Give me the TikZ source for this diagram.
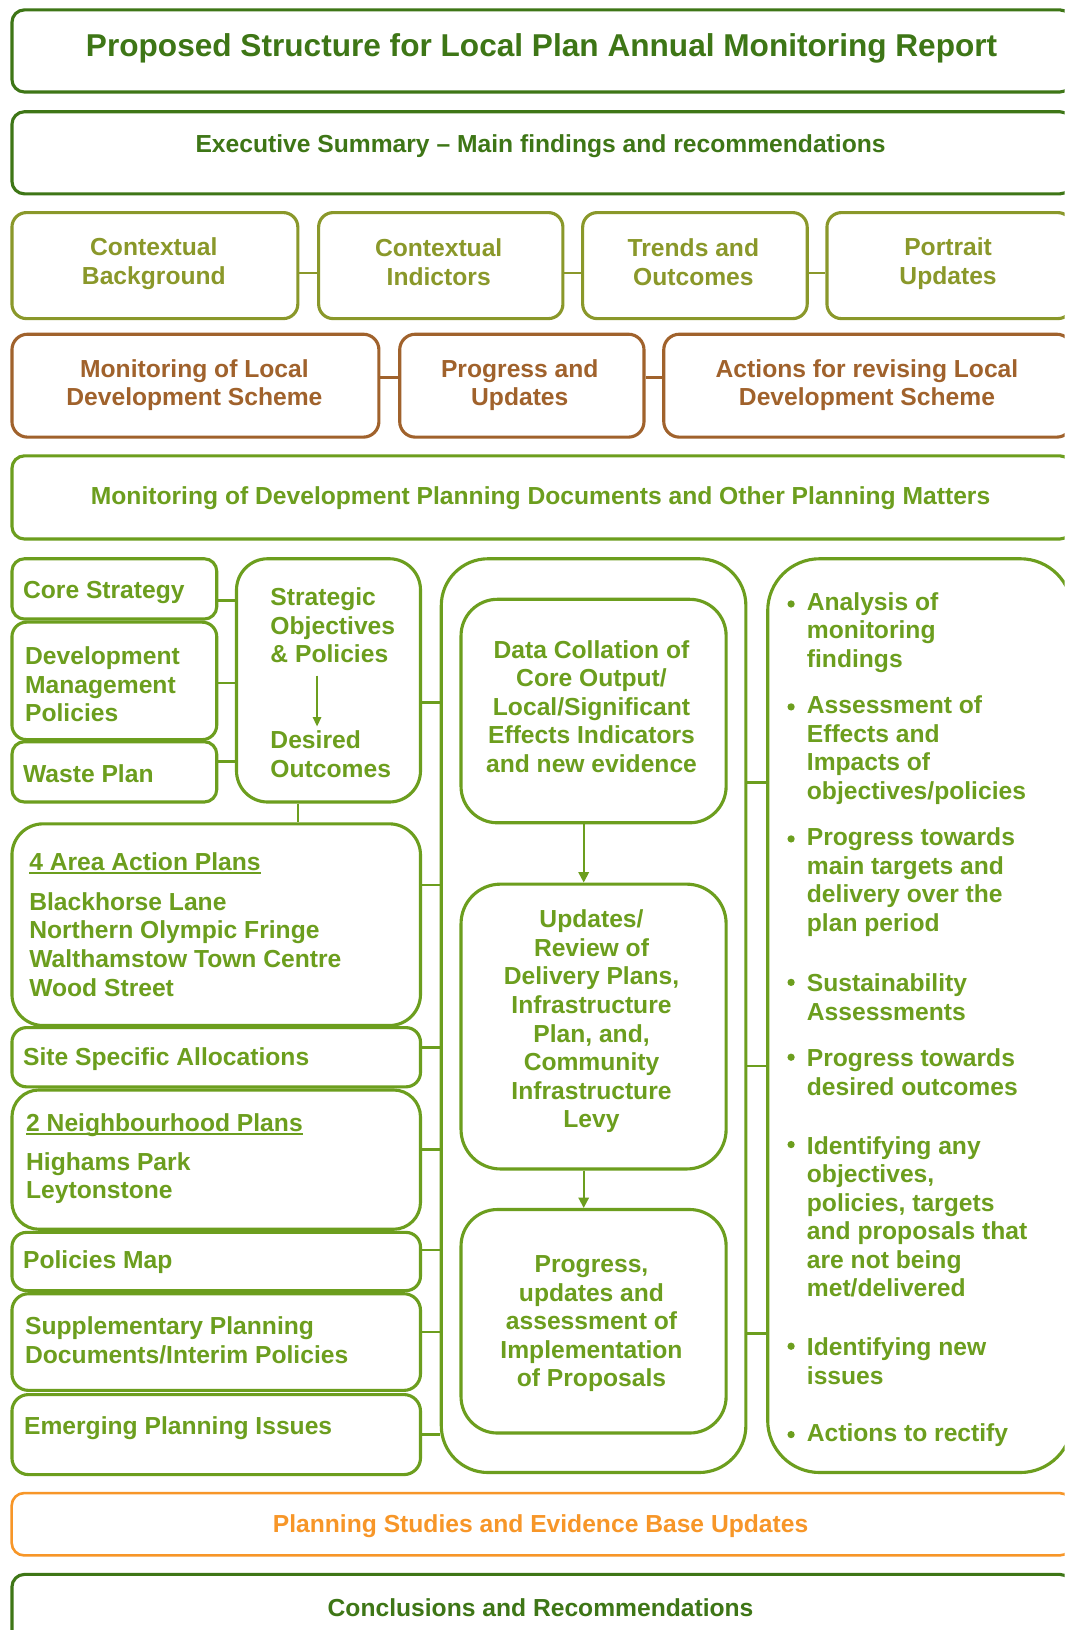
\documentclass[tikz,border=0pt]{standalone}
\usepackage{fontspec}
\setmainfont{Liberation Sans}
\usetikzlibrary{arrows.meta}
\definecolor{dgreen}{RGB}{62,118,22}
\definecolor{olivec}{RGB}{138,152,42}
\definecolor{brownc}{RGB}{160,98,44}
\definecolor{bgreen}{RGB}{108,158,30}
\definecolor{orangec}{RGB}{247,150,40}
\newcommand\myul[1]{\setbox0\hbox{#1}\rlap{\rule[-3.5pt]{\wd0}{1.8pt}}\box0}
\begin{document}
\begin{tikzpicture}[x=1pt,y=-1pt,
  box/.style={draw=#1, line width=3pt, inner sep=0pt, anchor=north west, fill=white},
  txt/.style={inner sep=0pt, yshift=-2.5pt, font=\bfseries\fontsize{23.7}{27.5}\selectfont, align=center},
  ltxt/.style={txt, align=left, anchor=west},
  conn/.style={line width=2.5pt},
  arr/.style={line width=1.8pt, -{Triangle[width=10pt,length=10pt]}},
  sarr/.style={line width=1.5pt, -{Triangle[width=8pt,length=9pt]}}]
\useasboundingbox (0,0) rectangle (1024,1568);
\fill[white] (0,0) rectangle (1024,1568);
\clip (0,0) rectangle (1024,1568);

% top boxes
\node[box=dgreen, rounded corners=12pt, minimum width=1020pt, minimum height=79pt] (title) at (10,8) {};
\node[txt, text=dgreen, font=\bfseries\fontsize{30.4}{34}\selectfont] (titlet) at (521,44) {Proposed Structure for Local Plan Annual Monitoring Report};
\node[box=dgreen, rounded corners=12pt, minimum width=1020pt, minimum height=79pt] (exec) at (10,106) {};
\node[txt, text=dgreen] (exect) at (520,138) {Executive Summary – Main findings and recommendations};

% row 3
\node[box=olivec, rounded corners=14pt, minimum width=275pt, minimum height=102pt] (cb) at (10,203) {};
\node[box=olivec, rounded corners=14pt, minimum width=235pt, minimum height=102pt] (ci) at (305,203) {};
\node[box=olivec, rounded corners=14pt, minimum width=216pt, minimum height=102pt] (tro) at (559,203) {};
\node[box=olivec, rounded corners=14pt, minimum width=236pt, minimum height=102pt] (pu) at (794,203) {};
\node[txt, text=olivec] (cbt) at (148,251) {Contextual\\Background};
\node[txt, text=olivec] (cit) at (422,250) {Contextual\\Indictors};
\node[txt, text=olivec] (trot) at (667,250) {Trends and\\Outcomes};
\node[txt, text=olivec] (put) at (912,251) {Portrait\\Updates};
\draw[conn, olivec] ([yshift=-7pt]cb.east) -- ([yshift=-7pt]cb.east -| ci.west);
\draw[conn, olivec] ([yshift=-7pt]ci.east) -- ([yshift=-7pt]ci.east -| tro.west);
\draw[conn, olivec] ([yshift=-7pt]tro.east) -- ([yshift=-7pt]tro.east -| pu.west);

% row 4
\node[box=brownc, rounded corners=15pt, minimum width=353pt, minimum height=99pt] (m1) at (10,320) {};
\node[box=brownc, rounded corners=15pt, minimum width=235pt, minimum height=99pt] (m2) at (383,320) {};
\node[box=brownc, rounded corners=15pt, minimum width=393pt, minimum height=99pt] (m3) at (637,320) {};
\node[txt, text=brownc] (m1t) at (187,368) {Monitoring of Local\\Development Scheme};
\node[txt, text=brownc] (m2t) at (500,368) {Progress and\\Updates};
\node[txt, text=brownc] (m3t) at (834,368) {Actions for revising Local\\Development Scheme};
\draw[conn, brownc] ([yshift=8pt]m1.east) -- ([yshift=8pt]m1.east -| m2.west);
\draw[conn, brownc] ([yshift=8pt]m2.east) -- ([yshift=8pt]m2.east -| m3.west);

% band
\node[box=bgreen, rounded corners=12pt, minimum width=1020pt, minimum height=80pt] (band) at (10,437) {};
\node[txt, text=bgreen] (bandt) at (520,477) {Monitoring of Development Planning Documents and Other Planning Matters};

% left column
\node[box=bgreen, rounded corners=12pt, minimum width=197pt, minimum height=58pt] (cs) at (10,536) {};
\node[box=bgreen, rounded corners=14pt, minimum width=197pt, minimum height=113pt] (dmp) at (10,597) {};
\node[box=bgreen, rounded corners=12pt, minimum width=197pt, minimum height=58pt] (wp) at (10,712) {};
\node[box=bgreen, rounded corners=30pt, minimum width=177pt, minimum height=234pt] (so) at (226,536) {};
\node[ltxt, text=bgreen] (cst) at (22,567) {Core Strategy};
\node[ltxt, text=bgreen] (dmpt) at (24,656) {Development\\Management\\Policies};
\node[ltxt, text=bgreen] (wpt) at (22,742) {Waste Plan};
\node[ltxt, text=bgreen] (so1) at (260,599) {Strategic\\Objectives\\\& Policies};
\node[ltxt, text=bgreen] (so2) at (260,723) {Desired\\Outcomes};
\draw[sarr, bgreen] ([xshift=45pt,yshift=-12pt]so1.south west) -- ([xshift=45pt,yshift=4pt]so2.north west);
\draw[conn, bgreen] ([yshift=-11pt]cs.east) -- ([yshift=-11pt]cs.east -| so.west);
\draw[conn, bgreen] ([yshift=-2pt]dmp.east) -- ([yshift=-2pt]dmp.east -| so.west);
\draw[conn, bgreen] ([yshift=10pt]wp.east) -- ([yshift=10pt]wp.east -| so.west);

\node[box=bgreen, rounded corners=30pt, minimum width=393pt, minimum height=194pt] (aap) at (10,791) {};
\node[ltxt, text=bgreen] (aaph) at (28,828) {\myul{4 Area Action Plans}};
\node[ltxt, text=bgreen] (aapt) at (28,906) {Blackhorse Lane\\Northern Olympic Fringe\\Walthamstow Town Centre\\Wood Street};
\draw[conn, bgreen] ([xshift=-29.5pt]so.south) -- ([xshift=-29.5pt]so.south |- aap.north);

\node[box=bgreen, rounded corners=14pt, minimum width=393pt, minimum height=57pt] (ssa) at (10,987) {};
\node[ltxt, text=bgreen] (ssat) at (22,1016) {Site Specific Allocations};
\node[box=bgreen, rounded corners=26pt, minimum width=393pt, minimum height=134pt] (np) at (10,1047) {};
\node[ltxt, text=bgreen] (nph) at (25,1080) {\myul{2 Neighbourhood Plans}};
\node[ltxt, text=bgreen] (npt) at (25,1131) {Highams Park\\Leytonstone};
\node[box=bgreen, rounded corners=14pt, minimum width=393pt, minimum height=56pt] (pm) at (10,1184) {};
\node[ltxt, text=bgreen] (pmt) at (22,1212) {Policies Map};
\node[box=bgreen, rounded corners=16pt, minimum width=393pt, minimum height=93pt] (spd) at (10,1243) {};
\node[ltxt, text=bgreen] (spdt) at (24,1287) {Supplementary Planning\\Documents/Interim Policies};
\node[box=bgreen, rounded corners=16pt, minimum width=393pt, minimum height=77pt] (epi) at (10,1340) {};
\node[ltxt, text=bgreen] (epit) at (23,1371) {Emerging Planning Issues};

% middle column
\node[box=bgreen, rounded corners=45pt, minimum width=293pt, minimum height=879pt] (mid) at (423,536) {};
\node[box=bgreen, rounded corners=35pt, minimum width=255pt, minimum height=215pt] (i1) at (442,575) {};
\node[box=bgreen, rounded corners=38pt, minimum width=255pt, minimum height=274pt] (i2) at (442,849) {};
\node[box=bgreen, rounded corners=35pt, minimum width=255pt, minimum height=215pt] (i3) at (442,1162) {};
\node[txt, text=bgreen] (i1t) at (569,677) {Data Collation of\\Core Output/\\Local/Significant\\Effects Indicators\\and new evidence};
\node[txt, text=bgreen] (i2t) at (569,980) {Updates/\\Review of\\Delivery Plans,\\Infrastructure\\Plan, and,\\Community\\Infrastructure\\Levy};
\node[txt, text=bgreen] (i3t) at (569,1271) {Progress,\\updates and\\assessment of\\Implementation\\of Proposals};
\draw[arr, bgreen] ([xshift=-9.5pt]i1.south) -- ([xshift=-9.5pt]i1.south |- i2.north);
\draw[arr, bgreen] ([xshift=-9.5pt]i2.south) -- ([xshift=-9.5pt]i2.south |- i3.north);

\draw[conn, bgreen] ([yshift=-21pt]so.east) -- ([yshift=-21pt]so.east -| mid.west);
\draw[conn, bgreen] ([yshift=38pt]aap.east) -- ([yshift=38pt]aap.east -| mid.west);
\draw[conn, bgreen] ([yshift=9.5pt]ssa.east) -- ([yshift=9.5pt]ssa.east -| mid.west);
\draw[conn, bgreen] ([yshift=10pt]np.east) -- ([yshift=10pt]np.east -| mid.west);
\draw[conn, bgreen] ([yshift=11pt]pm.east) -- ([yshift=11pt]pm.east -| mid.west);
\draw[conn, bgreen] ([yshift=9.5pt]spd.east) -- ([yshift=9.5pt]spd.east -| mid.west);
\draw[conn, bgreen] (epi.east) -- (epi.east -| mid.west);

% right column
\node[box=bgreen, rounded corners=50pt, minimum width=293pt, minimum height=879pt] (rt) at (737,536) {};
\draw[conn, bgreen] ([yshift=224.5pt]mid.east) -- ([yshift=224.5pt]mid.east -| rt.west);
\draw[conn, bgreen] ([yshift=-48.5pt]mid.east) -- ([yshift=-48.5pt]mid.east -| rt.west);
\draw[conn, bgreen] ([yshift=-305.5pt]mid.east) -- ([yshift=-305.5pt]mid.east -| rt.west);

\node[ltxt, text=bgreen] (b1) at (776,606) {Analysis of\\monitoring\\findings};
\node[ltxt, text=bgreen] (b2) at (776,719) {Assessment of\\Effects and\\Impacts of\\objectives/policies};
\node[ltxt, text=bgreen] (b3) at (776,846) {Progress towards\\main targets and\\delivery over the\\plan period};
\node[ltxt, text=bgreen] (b4) at (776,957) {Sustainability\\Assessments};
\node[ltxt, text=bgreen] (b5) at (776,1029) {Progress towards\\desired outcomes};
\node[ltxt, text=bgreen] (b6) at (776,1168) {Identifying any\\objectives,\\policies, targets\\and proposals that\\are not being\\met/delivered};
\node[ltxt, text=bgreen] (b7) at (776,1307) {Identifying new\\issues};
\node[ltxt, text=bgreen] (b8) at (776,1378) {Actions to rectify};
\foreach \yy in {581,680,807,945,1017,1101,1295,1380}
  \fill[bgreen] (761,\yy) circle (3.5);

% bottom
\node[box=orangec, line width=2.5pt, rounded corners=12pt, minimum width=1020pt, minimum height=60pt] (ps) at (10,1435) {};
\node[txt, text=orangec] (pst) at (520,1466) {Planning Studies and Evidence Base Updates};
\node[box=dgreen, rounded corners=12pt, minimum width=1020pt, minimum height=80pt] (cc) at (10,1513) {};
\node[txt, text=dgreen] (cct) at (520,1544) {Conclusions and Recommendations};
\end{tikzpicture}
\end{document}
